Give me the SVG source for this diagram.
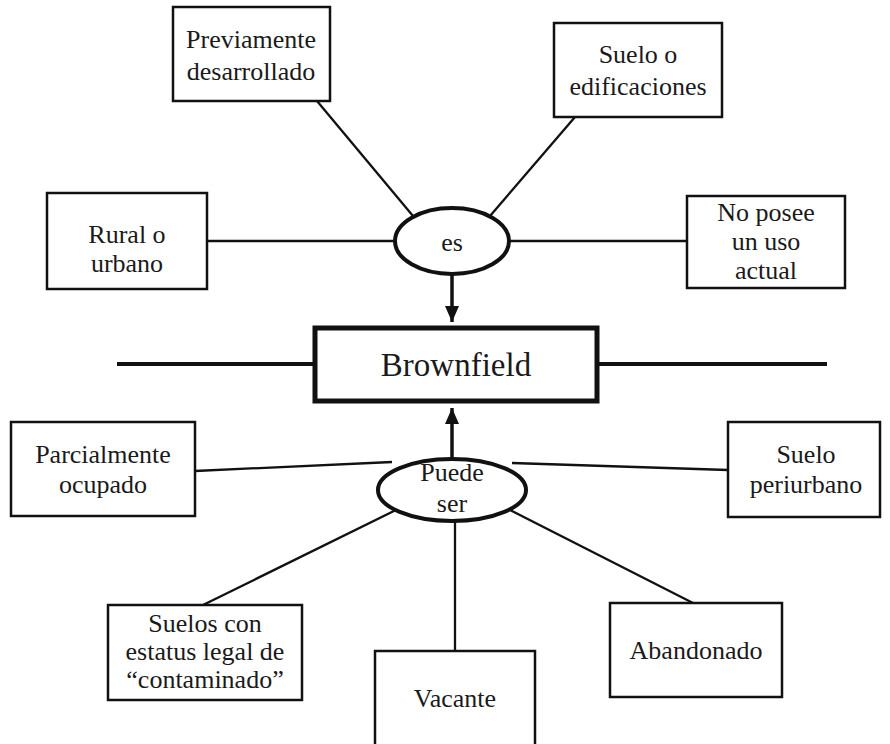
<svg xmlns="http://www.w3.org/2000/svg" width="890" height="744" viewBox="0 0 890 744">
<style>
.box{fill:#fff;stroke:#111;stroke-width:2.5}
.ell{fill:#fff;stroke:#111;stroke-width:4}
.ln{stroke:#111;stroke-width:2.3;fill:none}
text{font-family:'Liberation Serif','DejaVu Serif','Times New Roman',serif;font-size:26px;fill:#1a1a1a;text-anchor:middle}
</style>
<defs>
<marker id="ah" viewBox="0 0 16 14" refX="16" refY="7" markerWidth="16" markerHeight="14" orient="auto" markerUnits="userSpaceOnUse">
<path d="M0,0 L16,7 L0,14 z" fill="#111"/>
</marker>
</defs>
<rect width="890" height="744" fill="#fff"/>
<g id="connectors">
<line class="ln" x1="317" y1="101" x2="413" y2="216"/>
<line class="ln" x1="575" y1="117" x2="490" y2="216"/>
<line class="ln" x1="207" y1="241" x2="396" y2="241"/>
<line class="ln" x1="509" y1="241" x2="687" y2="241"/>
<line stroke="#111" stroke-width="3.5" x1="452" y1="274" x2="452" y2="322" marker-end="url(#ah)"/>
<line stroke="#111" stroke-width="4" x1="117" y1="364" x2="315" y2="364"/>
<line stroke="#111" stroke-width="4" x1="597" y1="364" x2="827" y2="364"/>
<line stroke="#111" stroke-width="3.5" x1="452" y1="461" x2="452" y2="408" marker-end="url(#ah)"/>
<line class="ln" x1="195" y1="471" x2="392" y2="462"/>
<line class="ln" x1="728" y1="470" x2="512" y2="463"/>
<line class="ln" x1="203" y1="605" x2="398" y2="509"/>
<line class="ln" x1="455" y1="651" x2="455" y2="520"/>
<line class="ln" x1="693" y1="603" x2="508" y2="509"/>
</g>
<g id="n-previamente">
<rect class="box" x="173" y="7" width="157" height="94"/>
<text x="251" y="48">Previamente</text>
<text x="251" y="80">desarrollado</text>
</g>
<g id="n-suelo-edif">
<rect class="box" x="554" y="23" width="168" height="94"/>
<text x="638" y="63">Suelo o</text>
<text x="638" y="95">edificaciones</text>
</g>
<g id="n-rural">
<rect class="box" x="47" y="193" width="160" height="96"/>
<text x="127" y="243">Rural o</text>
<text x="127" y="272">urbano</text>
</g>
<g id="n-noposee">
<rect class="box" x="687" y="196" width="158" height="92"/>
<text x="766" y="221">No posee</text>
<text x="766" y="250">un uso</text>
<text x="766" y="279">actual</text>
</g>
<g id="n-es">
<ellipse class="ell" cx="452" cy="241" rx="57" ry="33"/>
<text x="452" y="251">es</text>
</g>
<g id="n-brownfield">
<rect fill="#fff" stroke="#111" stroke-width="5" x="315" y="328" width="282" height="73"/>
<text x="456" y="376" style="font-size:33px">Brownfield</text>
</g>
<g id="n-puede">
<ellipse class="ell" cx="452" cy="490" rx="74" ry="31"/>
<text x="452" y="481">Puede</text>
<text x="452" y="512">ser</text>
</g>
<g id="n-parcial">
<rect class="box" x="11" y="422" width="184" height="94"/>
<text x="103" y="463">Parcialmente</text>
<text x="103" y="493">ocupado</text>
</g>
<g id="n-periurbano">
<rect class="box" x="728" y="422" width="152" height="95"/>
<text x="806" y="463">Suelo</text>
<text x="806" y="493">periurbano</text>
</g>
<g id="n-contaminado">
<rect class="box" x="108" y="605" width="194" height="95"/>
<text x="205" y="632">Suelos con</text>
<text x="205" y="660">estatus legal de</text>
<text x="205" y="688">“contaminado”</text>
</g>
<g id="n-vacante">
<rect class="box" x="375" y="651" width="160" height="100"/>
<text x="455" y="707">Vacante</text>
</g>
<g id="n-abandonado">
<rect class="box" x="610" y="603" width="172" height="94"/>
<text x="696" y="659">Abandonado</text>
</g>
</svg>
